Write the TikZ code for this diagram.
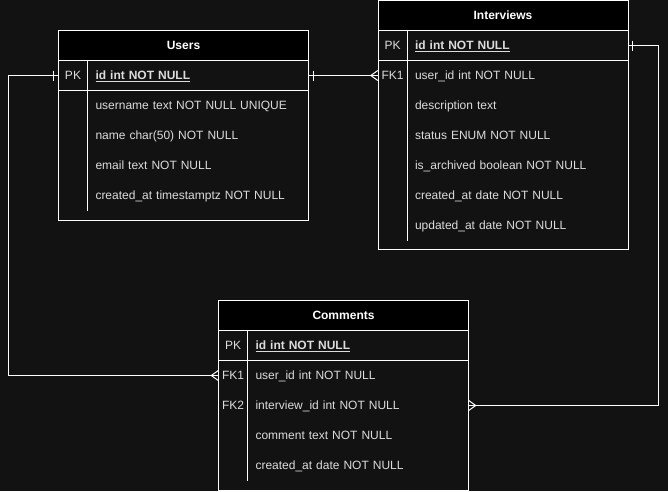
\documentclass[tikz,border=0pt]{standalone}
\usepackage{fontspec}
\setmainfont{Liberation Sans}
\usetikzlibrary{positioning}

\definecolor{bgdark}{HTML}{121212}
\definecolor{fieldgray}{HTML}{DCDCDC}

\tikzset{
  erfont/.style={font=\fontsize{12}{14}\selectfont},
  tblhead/.style={draw=white, fill=black, line width=1pt, minimum width=250pt, minimum height=30pt,
    inner sep=0pt, text height=8.6pt, text depth=0pt, text=white, font=\fontsize{12}{14}\selectfont\bfseries},
  tblbody/.style={draw=white, fill=bgdark, line width=1pt},
  keycell/.style={minimum width=29pt, minimum height=30pt, inner sep=0pt, text height=8.6pt, text depth=0pt,
    text=fieldgray, erfont},
  fieldcell/.style={minimum width=221pt, minimum height=30pt, inner xsep=8pt, inner ysep=0pt,
    text width=205pt, text height=8.6pt, text depth=0pt, align=left, text=fieldgray, erfont},
  conn/.style={draw=white, line width=1pt},
}

\begin{document}
\begin{tikzpicture}[x=1pt, y=-1pt]
\useasboundingbox[fill=bgdark] (0,0) rectangle (668,491);

% Users
\draw[tblbody] (58.5,60.5) rectangle (308.5,220.5);
\node[tblhead] (users) at (183.5,45.5) {Users};
\draw[conn] (58.5,90.5) -- (308.5,90.5);
\draw[conn] (87.5,60.5) -- (87.5,210.5);
\node[keycell] (users-kpk) at (73,75.5) {PK};
\node[fieldcell] (users-fpk) at (198,75.5) {\textbf{\underline{id int NOT NULL}}};
\foreach \k/\f [count=\i] in {/username text NOT NULL UNIQUE, /name char(50) NOT NULL,
    /email text NOT NULL, /created\_at timestamptz NOT NULL} {
  \node[keycell] (users-k\i) at (73,{75.5+30*\i}) {\k};
  \node[fieldcell] (users-f\i) at (198,{75.5+30*\i}) {\f};
}

% Interviews
\draw[tblbody] (378,30.5) rectangle (628,249);
\node[tblhead] (interviews) at (503,15.5) {Interviews};
\draw[conn] (378,60.5) -- (628,60.5);
\draw[conn] (407,30.5) -- (407,240.5);
\node[keycell] (int-kpk) at (392.5,45.5) {PK};
\node[fieldcell] (int-fpk) at (517.5,45.5) {\textbf{\underline{id int NOT NULL}}};
\foreach \k/\f [count=\i] in {FK1/user\_id int NOT NULL, /description text, /status ENUM NOT NULL,
    /is\_archived boolean NOT NULL, /created\_at date NOT NULL, /updated\_at date NOT NULL} {
  \node[keycell] (int-k\i) at (392.5,{45.5+30*\i}) {\k};
  \node[fieldcell] (int-f\i) at (517.5,{45.5+30*\i}) {\f};
}

% Comments
\draw[tblbody] (218.5,330.5) rectangle (468.5,490);
\node[tblhead] (comments) at (343.5,315.5) {Comments};
\draw[conn] (218.5,360.5) -- (468.5,360.5);
\draw[conn] (247.5,330.5) -- (247.5,480.5);
\node[keycell] (com-kpk) at (233,345.5) {PK};
\node[fieldcell] (com-fpk) at (358,345.5) {\textbf{\underline{id int NOT NULL}}};
\foreach \k/\f [count=\i] in {FK1/user\_id int NOT NULL, FK2/interview\_id int NOT NULL,
    /comment text NOT NULL, /created\_at date NOT NULL} {
  \node[keycell] (com-k\i) at (233,{345.5+30*\i}) {\k};
  \node[fieldcell] (com-f\i) at (358,{345.5+30*\i}) {\f};
}

% relations
\draw[conn] (users-fpk.east) -- (int-k1.west);
\draw[conn] (users-kpk.west) -- ++(-50,0) |- (com-k1.west);
\draw[conn] (int-fpk.east) -- ++(30,0) |- (com-f2.east);

% one ends
\draw[conn] ([xshift=5pt]users-fpk.east) ++(0,-5) -- ++(0,10);
\draw[conn] ([xshift=-5pt]users-kpk.west) ++(0,-5) -- ++(0,10);
\draw[conn] ([xshift=4pt]int-fpk.east) ++(0,-5) -- ++(0,10);

% many ends
\draw[conn] ([yshift=-5pt]int-k1.west) -- ++(-7,-5) -- ([yshift=5pt]int-k1.west);
\draw[conn] ([yshift=-5pt]com-k1.west) -- ++(-7,-5) -- ([yshift=5pt]com-k1.west);
\draw[conn] ([yshift=-5pt]com-f2.east) -- ++(7,-5) -- ([yshift=5pt]com-f2.east);
\end{tikzpicture}
\end{document}
